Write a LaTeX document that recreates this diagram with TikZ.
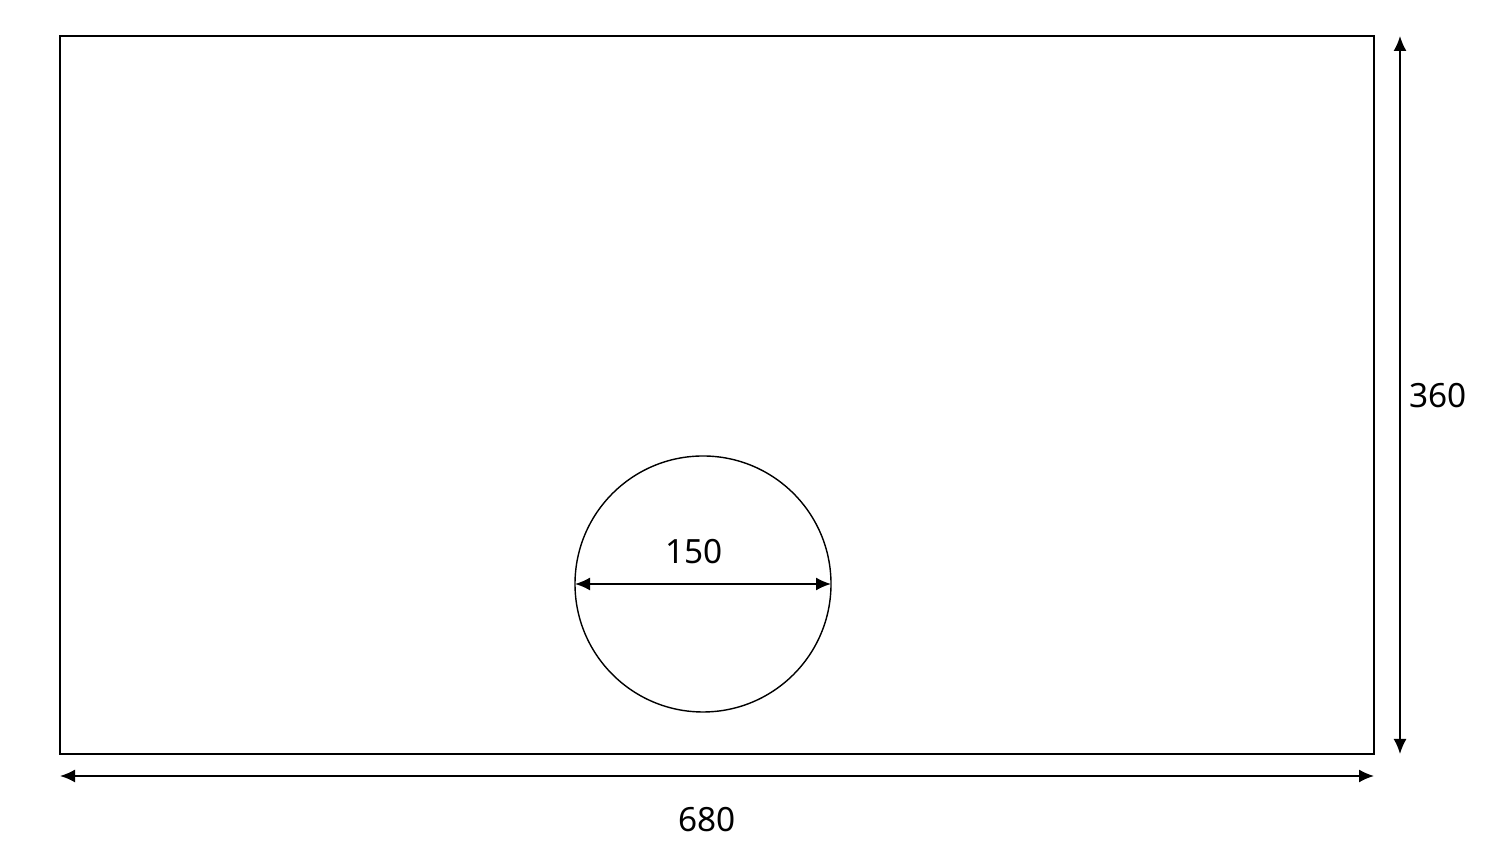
\documentclass[tikz,border=0pt]{standalone}
\usepackage{fontspec}
\setmainfont{Noto Sans}
\usetikzlibrary{arrows.meta, positioning}

\begin{document}
\begin{tikzpicture}[
    every node/.style={font=\fontsize{9.5}{11}\selectfont},
    outline/.style={draw, line width=0.4pt, inner sep=0pt, outer sep=0pt},
    dim/.style={{Latex[length=1.5mm,width=1.3mm]}-{Latex[length=1.5mm,width=1.3mm]}, line width=0.5pt}
]
\useasboundingbox (0,0) rectangle (14.93,8.5);

\node[outline, rectangle, minimum width=13.14cm, minimum height=7.18cm, anchor=south west] (plate) at (0.60,0.96) {};
\node[outline, circle, minimum size=2.56cm] (hole) at (7.03,2.66) {};

\coordinate (vtop) at ([xshift=0.26cm]plate.north east);
\coordinate (vbot) at ([xshift=0.26cm]plate.south east);
\coordinate (hleft) at ([yshift=-0.22cm]plate.south west);
\coordinate (hright) at ([yshift=-0.22cm]plate.south east);

\draw[dim] (hole.west) -- (hole.east);
\draw[dim] (vtop) -- (vbot);
\draw[dim] (hleft) -- (hright);

\node (dia) at (6.94,2.98) {150};
\node (height) at (14.38,4.54) {360};
\node (width) at (7.07,0.30) {680};

\end{tikzpicture}
\end{document}
